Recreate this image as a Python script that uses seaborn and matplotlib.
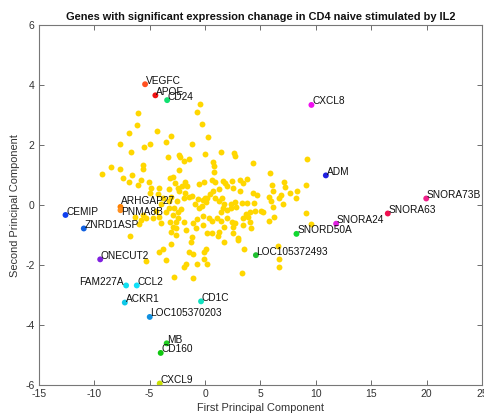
import numpy as np
import pandas as pd
import matplotlib
matplotlib.use("Agg")
import matplotlib.pyplot as plt
import seaborn as sns

# ---- background genes (yellow) ----
bg_x = [-6.01, -6.16, -6.88, -4.32, -3.06, -7.63, -4.95, -5.47, -3.55, -6.64, -3.31, -2.38,
        -8.53, -7.63, -5.56, -5.56, -0.49, -0.76, -0.24, 0.23, -1.21, 0.00, 1.44, 2.58, 2.70,
        -2.25, -1.41, -1.86, 0.68, 0.84, 4.35, -2.32, -9.28, 9.24,
        -7.42, -6.58, -5.77, -5.02, -3.13, -6.88, -6.01, -4.86, -4.12, -4.27, -4.95, -3.28,
        -2.92, -2.70, -2.47, -3.06, -3.76, -3.28, -2.56, -3.22, -3.96, -4.41, -3.51, -2.77,
        -2.47, -5.32, -5.77, -5.98, -3.96, -3.15, -4.12, -4.72, -2.61, -3.06, -6.76, -5.62,
        -6.28, -2.47,
        0.77, -1.77, -2.07, -1.66, -2.32, -1.80, -1.93, -1.48, -1.17, -0.06, -0.51, 0.63, 0.93,
        1.65, 1.77, 1.95, 2.40, 3.15, 3.78, 2.55, 3.18, 3.39, 4.35, 4.65, 1.29, 0.68, 0.41,
        0.03, -0.22, 0.18, -0.67, -0.87, -0.31, -0.51, 0.09, 0.93, 1.29, 1.56, 1.74, 1.59,
        1.44, 1.95, 2.34, 2.34, 2.70, 3.30, 3.75, 2.79, 3.69, 4.08, 3.90, 4.53, -2.16, -2.86,
        -2.61, -1.86, -1.12, -0.76, -0.22, 0.39, 0.63, 1.05, 1.44, 1.95, 2.40, 2.73, 3.45,
        3.39, 4.14, -1.17, -2.61, 0.14, 0.63, 1.29, 1.20, 2.94, 2.49, -0.22, -0.81, -1.71,
        -2.86, 1.74,
        5.86, 7.14, 7.23, 6.04, 6.15, 9.15, 7.68, 8.34, 6.85, 6.63, 8.20, 5.79, 5.95, 4.44,
        7.08, 6.15, 5.05, 5.19, 9.10, 6.24, 5.73, 4.05, 9.55,
        6.54, 6.63, 6.63, 3.30, 3.51, 3.00, 2.49,
        -1.26, 1.74, -3.82, -4.18, -3.06, -1.41, -1.12, -0.06, 0.09, -3.51, -1.71, -1.86,
        -0.76, -0.13, 0.18, -5.32, -2.83, -1.12]
bg_y = [3.06, 2.68, 2.40, 2.46, 2.31, 2.03, 2.04, 1.93, 2.11, 1.77, 1.60, 1.67,
        1.27, 1.21, 1.33, 1.20, 3.37, 3.10, 2.69, 2.26, 2.04, 1.71, 1.77, 1.73, 1.65,
        1.61, 1.54, 1.46, 1.44, 1.30, 1.39, 1.18, 1.05, 1.54,
        0.89, 1.00, 0.83, 0.78, 0.92, 0.76, 0.67, 0.58, 0.58, 0.36, 0.39, 0.52,
        0.94, 0.72, 0.58, 0.28, 0.22, 0.13, 0.13, -0.09, 0.02, -0.20, -0.22, -0.11,
        -0.22, -0.44, -0.50, -0.64, -0.61, -0.56, -0.39, -0.44, -0.78, -0.89, -1.04, -0.33,
        -0.39, -0.44,
        1.11, 0.78, 0.64, 0.62, 0.48, 0.39, 0.22, 0.28, 0.31, 0.76, 0.70, 0.83, 0.76,
        0.81, 0.74, 0.64, 0.81, 0.83, 0.86, 0.56, 0.48, 0.72, 0.39, 0.33, 0.53, 0.47, 0.36,
        0.24, 0.17, 0.22, 0.19, 0.03, -0.02, -0.11, 0.09, 0.24, 0.13, 0.22, 0.03, -0.09,
        -0.24, -0.17, -0.11, 0.02, 0.11, 0.08, 0.06, -0.08, -0.30, -0.22, -0.39, -0.19, -0.13, -0.33,
        -0.56, -0.58, -0.61, -0.48, -0.36, -0.42, -0.53, -0.44, -0.53, -0.44, -0.56, -0.61, -0.42,
        -0.67, -0.76, -1.08, -1.00, -0.94, -0.94, -0.89, -1.03, -1.11, -0.72, -0.67, -0.78, -0.83,
        -0.72, -0.72,
        1.07, 0.77, 0.61, 0.67, 0.48, 0.67, 0.39, 0.48, 0.33, 0.24, 0.24, 0.28, 0.13, 0.08,
        0.02, -0.06, -0.19, -0.24, -0.26, -0.41, -0.52, -0.56, -0.64,
        -1.37, -1.81, -2.07, -2.25, -1.45, -1.17, -0.94,
        -1.23, -1.23, -1.47, -1.56, -1.31, -1.56, -1.64, -1.56, -1.45, -1.84, -1.95, -2.08,
        -1.97, -1.80, -1.98, -1.87, -2.39, -2.43]

# ---- highlighted genes ----
genes = ["VEGFC", "APOE", "CD24", "CXCL8", "ADM", "SNORA73B", "SNORA63", "SNORA24",
         "SNORD50A", "LOC105372493", "CEMIP", "ZNRD1ASP", "ARHGAP27", "PNMA8B", "ONECUT2",
         "FAM227A", "CCL2", "ACKR1", "CD1C", "LOC105370203", "MB", "CD160", "CXCL9"]
gene_x = [-5.41, -4.48, -3.42, 9.60, 10.90, 19.96, 16.49, 11.83, 8.25, 4.59, -12.59, -10.94,
          -7.63, -7.63, -9.46, -7.12, -6.16, -7.24, -0.36, -4.99, -3.46, -4.00, -4.09]
gene_y = [4.03, 3.66, 3.50, 3.34, 0.99, 0.22, -0.28, -0.62, -0.96, -1.67, -0.33, -0.78,
          -0.06, -0.17, -1.81, -2.68, -2.68, -3.25, -3.21, -3.73, -4.61, -4.93, -5.95]
gene_colors = ["#ff5020", "#f01010", "#10e070", "#f010f0", "#2020e0", "#f0208a", "#f01050",
               "#e020e0", "#10d830", "#20c030", "#1040f0", "#1060e0", "#ff8000", "#ff9020",
               "#8020e0", "#10e0f0", "#10e0f8", "#10c8e8", "#10e0c0", "#1090e0", "#20d020",
               "#10c810", "#c8e000"]
left_labels = ["FAM227A"]
label_dy = {"ARHGAP27": 4.0, "PNMA8B": -1.0}

x_ticks = [-15, -10, -5, 0, 5, 10, 15, 20, 25]
y_ticks = [-6, -4, -2, 0, 2, 4, 6]

sns.set_theme(style="white")
plt.rcParams["font.family"] = ["Liberation Sans", "DejaVu Sans"]

fig = plt.figure(figsize=(4.85, 4.16), dpi=100)
ax = fig.add_axes([0.080, 0.0745, 0.914, 0.865])

bg = pd.DataFrame({"x": bg_x, "y": bg_y})
sns.scatterplot(data=bg, x="x", y="y", color="#ffd700", s=18, linewidth=0, ax=ax, legend=False)

hl = pd.DataFrame({"x": gene_x, "y": gene_y, "gene": genes})
sns.scatterplot(data=hl, x="x", y="y", hue="gene", palette=dict(zip(genes, gene_colors)),
                s=18, linewidth=0, ax=ax, legend=False)

for g, gx, gy in zip(genes, gene_x, gene_y):
    dy = label_dy.get(g, 2.5)
    if g in left_labels:
        ax.annotate(g, (gx, gy), xytext=(-2, dy), textcoords="offset points",
                    ha="right", va="center", fontsize=7.3, color="#111111")
    else:
        ax.annotate(g, (gx, gy), xytext=(0.5, dy), textcoords="offset points",
                    ha="left", va="center", fontsize=7.3, color="#111111")

ax.set_xlim(-15, 25)
ax.set_ylim(-6, 6)
ax.set_xticks(x_ticks)
ax.set_yticks(y_ticks)
ax.set_xticklabels([str(t) for t in x_ticks])
ax.set_yticklabels([str(t) for t in y_ticks])
ax.tick_params(direction="in", length=3.5, width=0.6, colors="#555555", labelsize=7.5,
               top=True, right=True, bottom=True, left=True, labelcolor="#333333", pad=3)
for sp in ax.spines.values():
    sp.set_color("#777777")
    sp.set_linewidth(0.8)

ax.set_xlabel("First Principal Component", fontsize=7.9, color="#333333", labelpad=3)
ax.set_ylabel("Second Principal Component", fontsize=7.9, color="#333333", labelpad=4)
ax.set_title("Genes with significant expression chanage in CD4 naive stimulated by IL2",
             fontsize=7.9, fontweight="bold", color="#111111", pad=4)

fig.savefig("out.png", dpi=100)
